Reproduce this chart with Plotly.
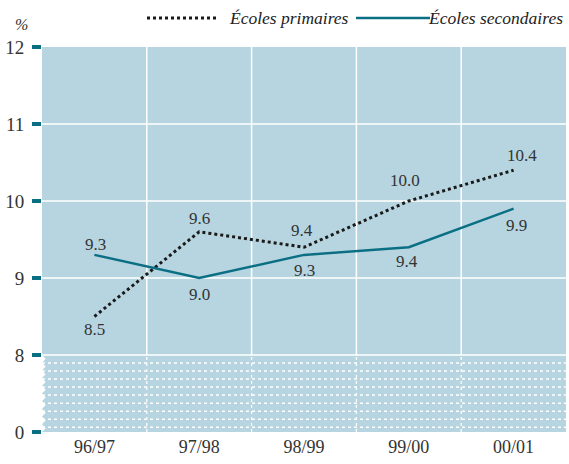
import plotly.graph_objects as go

categories = ["96/97", "97/98", "98/99", "99/00", "00/01"]
primaires = [8.5, 9.6, 9.4, 10.0, 10.4]
secondaires = [9.3, 9.0, 9.3, 9.4, 9.9]
tick_values = [0, 8, 9, 10, 11, 12]

# label offsets (pixels) — styling only
prim_dy = [-13, 13, 17, 21, 15]
prim_dx = [0, 0, -2, -4, 8]
sec_dy = [10, -16, -16, -14, -17]
sec_dx = [1, 0, 0, -2, 3]

BG = "#b6d5e0"
TEAL = "#0b6f84"
TXT = "#333333"
FONT = "Liberation Serif"

W, H = 569, 464
L, R, T, B = 42, 3, 47, 32
PW, PH = W - L - R, H - T - B


def brk(v):
    # broken axis: 0..8 compressed into one unit, then linear
    return v / 8.0 if v <= 8 else v - 7


def px_x(p):  # pixel -> paper x
    return (p - L) / PW


def px_y(p):  # pixel -> paper y
    return (H - B - p) / PH


fig = go.Figure()
fig.add_trace(go.Scatter(
    x=categories, y=[brk(v) for v in primaires], mode="lines",
    line=dict(color="#1a1a1a", width=3, dash="dot"), showlegend=False, hoverinfo="skip"))
fig.add_trace(go.Scatter(
    x=categories, y=[brk(v) for v in secondaires], mode="lines",
    line=dict(color=TEAL, width=2.5), showlegend=False, hoverinfo="skip"))

annotations = []
for series, dys, dxs in [(primaires, prim_dy, prim_dx), (secondaires, sec_dy, sec_dx)]:
    for c, v, dy, dx in zip(categories, series, dys, dxs):
        annotations.append(dict(x=c, y=brk(v), text=f"{v:.1f}", showarrow=False,
                                xanchor="center", yanchor="middle", xshift=dx, yshift=dy,
                                font=dict(family=FONT, size=17, color=TXT)))

shapes = []
for v in [8, 9, 10, 11]:
    shapes.append(dict(type="line", xref="paper", x0=0, x1=1, yref="y", y0=brk(v), y1=brk(v),
                       line=dict(color="white", width=1.5), layer="below"))
for i in range(len(categories) - 1):
    shapes.append(dict(type="line", xref="x", x0=i + 0.5, x1=i + 0.5, yref="y", y0=1, y1=5,
                       line=dict(color="white", width=1.5), layer="below"))
    shapes.append(dict(type="line", xref="x", x0=i + 0.5, x1=i + 0.5, yref="y", y0=0, y1=1,
                       line=dict(color="white", width=1.2, dash="dot"), layer="below"))
for k in range(1, 10):
    yy = 1 - k / 9.6
    shapes.append(dict(type="line", xref="paper", x0=0, x1=1, yref="y", y0=yy, y1=yy,
                       line=dict(color="white", width=1.5, dash="dot"), layer="below"))
path = "M 0,1"
n = 10
for k in range(n):
    y0 = 1 - k / n
    path += f" L 0.007,{y0 - 0.5 / n:.4f} L 0,{y0 - 1 / n:.4f}"
path += " Z"
shapes.append(dict(type="path", xref="paper", yref="y", path=path,
                   fillcolor="white", line=dict(width=0), layer="below"))

# custom legend
ly = px_y(18)
shapes.append(dict(type="line", xref="paper", yref="paper", x0=px_x(147), x1=px_x(217),
                   y0=ly, y1=ly, line=dict(color="#1a1a1a", width=3, dash="dot")))
shapes.append(dict(type="line", xref="paper", yref="paper", x0=px_x(356), x1=px_x(430),
                   y0=ly, y1=ly, line=dict(color=TEAL, width=2.5)))
annotations += [
    dict(text="<i>Écoles primaires</i>", xref="paper", yref="paper", x=px_x(227), y=ly,
         xanchor="left", yanchor="middle", showarrow=False, font=dict(family=FONT, size=17.5, color="#222")),
    dict(text="<i>Écoles secondaires</i>", xref="paper", yref="paper", x=px_x(565), y=ly,
         xanchor="right", yanchor="middle", showarrow=False, font=dict(family=FONT, size=17.5, color="#222")),
    dict(text="<i>%</i>", xref="paper", yref="paper", x=px_x(21), y=px_y(24),
         xanchor="center", yanchor="middle", showarrow=False, font=dict(family=FONT, size=16, color=TXT)),
]

fig.update_layout(
    width=W, height=H,
    margin=dict(l=L, r=R, t=T, b=B),
    paper_bgcolor="white", plot_bgcolor=BG,
    shapes=shapes, annotations=annotations,
    font=dict(family=FONT, color=TXT, size=18),
    hovermode=False,
    xaxis=dict(range=[-0.5, 4.5], showgrid=False, zeroline=False, showline=False, ticks="",
               automargin=False, ticklabelstandoff=2, fixedrange=True,
               tickfont=dict(family=FONT, size=18, color=TXT)),
    yaxis=dict(range=[0, 5], tickvals=[brk(v) for v in tick_values], ticktext=[str(v) for v in tick_values],
               showgrid=False, zeroline=False, showline=False, ticks="outside", ticklen=9, tickwidth=4,
               automargin=False, tickcolor=TEAL, ticklabelstandoff=4, fixedrange=True,
               tickfont=dict(family=FONT, size=19, color=TXT)),
)

fig.write_html("out.html", config={"displayModeBar": False},
               post_script="document.body.style.margin='0';document.body.style.overflow='hidden';")
